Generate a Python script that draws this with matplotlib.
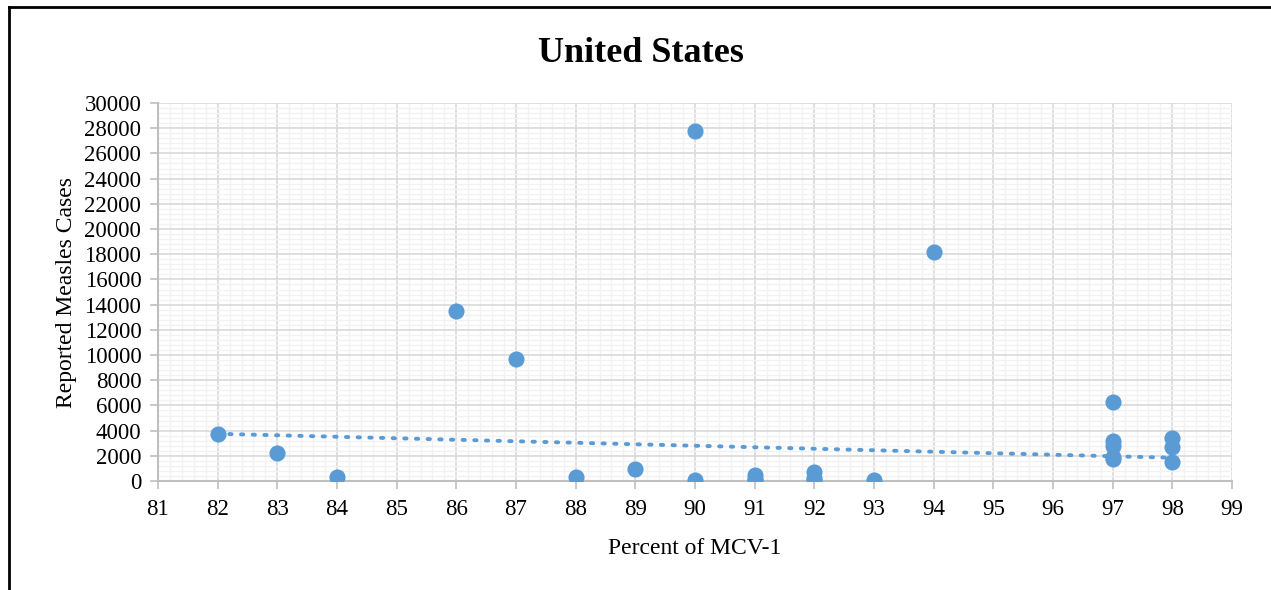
import matplotlib.pyplot as plt
import numpy as np
from matplotlib.lines import Line2D
from matplotlib.ticker import MultipleLocator

plt.rcParams['font.family'] = ['Liberation Serif', 'DejaVu Serif']

# MCV-1 coverage (%) and reported measles cases, United States
coverage = [82, 83, 84, 86, 87, 88, 89, 90, 90, 91, 91, 91, 92, 92, 92, 93,
            94, 97, 97, 97, 97, 97, 98, 98, 98]
cases = [3700, 2250, 300, 13500, 9650, 300, 950, 27800, 120, 500, 50, 150,
         700, 250, 60, 70, 18200, 6300, 3150, 2800, 1900, 1750, 3400, 2700,
         1500]

# linear trendline as shown on the chart (values at 82 and 98)
trend_x = [82, 98]
trend_y = [3750, 1850]

fig = plt.figure(figsize=(12.71, 5.90), dpi=100)
ax = fig.add_axes([0.1243, 0.1847, 0.9693 - 0.1243, 0.8254 - 0.1847])

blue = '#5B9BD5'
ax.scatter(coverage, cases, s=135, color=blue, zorder=4, linewidths=0)
ax.plot(trend_x, trend_y, color=blue, linestyle=(0, (0.6, 2.4)),
        linewidth=2.8, dash_capstyle='round', zorder=3)

ax.set_xlim(81, 99)
ax.set_ylim(0, 30000)
ax.xaxis.set_major_locator(MultipleLocator(1))
ax.xaxis.set_minor_locator(MultipleLocator(0.2))
ax.yaxis.set_major_locator(MultipleLocator(2000))
ax.yaxis.set_minor_locator(MultipleLocator(400))

ax.grid(which='major', color='#D9D9D9', linewidth=1.2, zorder=1)
ax.grid(which='minor', color='#F2F2F2', linewidth=1.0, zorder=0)
ax.set_axisbelow(True)

for side in ['top', 'right']:
    ax.spines[side].set_visible(False)
for side in ['left', 'bottom']:
    ax.spines[side].set_color('#BFBFBF')
    ax.spines[side].set_linewidth(1.5)

ax.tick_params(which='major', length=6, color='#BFBFBF', width=1.2,
               labelsize=16.5)
ax.tick_params(axis='x', which='major', pad=7)
ax.tick_params(axis='y', which='major', pad=6)
ax.tick_params(which='minor', length=0)

ax.set_xlabel('Percent of MCV-1', fontsize=17, labelpad=13)
ax.set_ylabel('Reported Measles Cases', fontsize=17, labelpad=5)
fig.text(641 / 1271, 1 - 53 / 590, 'United States', fontsize=26,
         fontweight='bold', ha='center', va='center')

# frame lines of the chart area
fig.add_artist(Line2D([9 / 1271, 9 / 1271], [0, 1 - 7 / 590], color='black',
                      linewidth=2, transform=fig.transFigure))
fig.add_artist(Line2D([9 / 1271, 1], [1 - 7 / 590, 1 - 7 / 590], color='black',
                      linewidth=2, transform=fig.transFigure))

plt.savefig('out.png', dpi=100)
